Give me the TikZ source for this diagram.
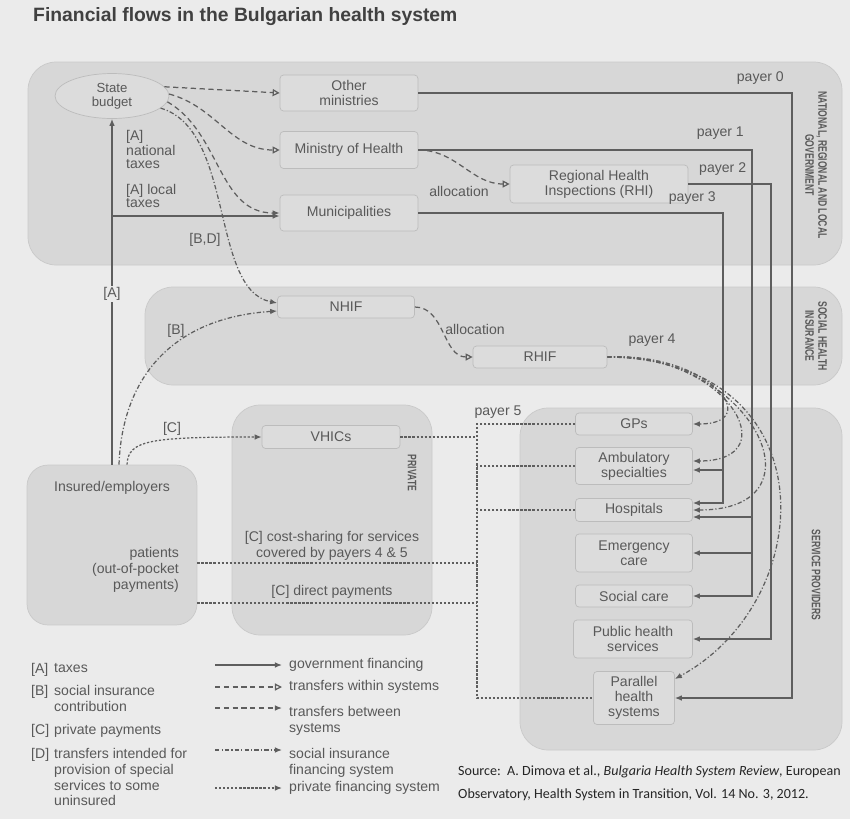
\documentclass[tikz,border=0pt]{standalone}
\usepackage{fontspec}
\setmainfont{Liberation Sans}
\newfontfamily\srcfont{Carlito}
\newfontfamily\condfont[FakeStretch=0.7]{Liberation Sans}
\usetikzlibrary{shapes.geometric, arrows.meta, positioning, calc}
\definecolor{pagebg}{HTML}{EBEBEB}
\definecolor{panelfill}{HTML}{D7D7D7}
\definecolor{panelline}{HTML}{C9C9C9}
\definecolor{boxfill}{HTML}{DCDCDC}
\definecolor{boxline}{HTML}{BCBCBC}
\definecolor{inkgray}{HTML}{595959}
\definecolor{linegray}{HTML}{5E5E5E}

\begin{document}
\begin{tikzpicture}[x=0.02cm, y=-0.02cm,
  panel/.style={draw=panelline, fill=panelfill, rounded corners=16pt},
  box/.style={rectangle, rounded corners=2pt, draw=boxline, fill=boxfill,
              font=\fontsize{8}{8.4}\selectfont, text=inkgray, align=center, inner sep=1pt},
  oval/.style={ellipse, draw=boxline, fill=boxfill, inner sep=0pt,
               font=\fontsize{7.5}{8}\selectfont, text=inkgray, align=center},
  lbl/.style={font=\fontsize{8}{9}\selectfont, text=inkgray, align=left},
  tight/.style={lbl, font=\fontsize{8}{7.4}\selectfont},
  side/.style={font=\condfont\bfseries\fontsize{7}{7.4}\selectfont, text=inkgray, rotate=-90, align=center},
  gov/.style={-{Latex[length=4pt,width=3.2pt]}, line width=0.7pt, draw=linegray},
  within/.style={-{Triangle[open,length=4pt,width=4pt]}, line width=0.7pt, draw=linegray, dash pattern=on 3pt off 2pt},
  between/.style={-{Latex[length=4pt,width=3.2pt]}, line width=0.7pt, draw=linegray, dash pattern=on 3pt off 2pt},
  sis/.style={-{Latex[length=4pt,width=3.2pt]}, line width=0.7pt, draw=linegray, dash pattern=on 2.5pt off 1.2pt on 0.7pt off 1.2pt},
  priv/.style={line width=0.7pt, draw=linegray, dash pattern=on 1.3pt off 1pt},
  privarr/.style={priv, -{Latex[length=4pt,width=3.2pt]}},
]
% page
\fill[pagebg] (0,0) rectangle (850,819);
\useasboundingbox (0,0) rectangle (850,819);
\node[anchor=west, font=\fontsize{11}{12}\selectfont\bfseries, text=black!75] (title) at (27,17)
  {Financial flows in the Bulgarian health system};

% sector panels
\draw[panel] (28,62) rectangle (842,265);
\draw[panel] (145,287) rectangle (842,385);
\draw[panel] (232,405) rectangle (432,635);
\draw[panel] (520,408) rectangle (842,750);
\node[panel, rounded corners=12pt, minimum width=3.4cm, minimum height=3.2cm] (ins) at (112,545) {};

\node[side] at (816,165) {NATIONAL, REGIONAL AND LOCAL\\GOVERNMENT};
\node[side] at (816,336) {SOCIAL HEALTH\\INSURANCE};
\node[side] at (412,473) {PRIVATE};
\node[side] at (816,575) {SERVICE PROVIDERS};

% funders
\node[oval, minimum width=2.28cm, minimum height=0.9cm] (budget) at (112,96) {State\\budget};
\node[box, minimum width=2.76cm, minimum height=0.72cm] (othmin) at (349,93) {Other\\ministries};
\node[box, minimum width=2.76cm, minimum height=0.74cm] (moh) at (349,150) {Ministry of Health};
\node[box, minimum width=2.76cm, minimum height=0.72cm] (muni) at (349,213) {Municipalities};
\node[box, minimum width=3.56cm, minimum height=0.76cm] (rhi) at (599,184) {Regional Health\\Inspections (RHI)};
\node[box, minimum width=2.74cm, minimum height=0.44cm] (nhif) at (346,307) {NHIF};
\node[box, minimum width=2.68cm, minimum height=0.44cm] (rhif) at (540,357) {RHIF};
\node[box, minimum width=2.76cm, minimum height=0.46cm] (vhic) at (331,437) {VHICs};

% providers
\node[box, minimum width=2.34cm, minimum height=0.44cm] (gps) at (634,424) {GPs};
\node[box, minimum width=2.34cm, minimum height=0.74cm] (amb) at (634,466) {Ambulatory\\specialties};
\node[box, minimum width=2.34cm, minimum height=0.46cm] (hosp) at (634,510) {Hospitals};
\node[box, minimum width=2.34cm, minimum height=0.76cm] (emer) at (634,553) {Emergency\\care};
\node[box, minimum width=2.34cm, minimum height=0.44cm] (soc) at (634,596) {Social care};
\node[box, minimum width=2.38cm, minimum height=0.76cm] (pub) at (633,639) {Public health\\services};
\node[box, minimum width=1.62cm, minimum height=1.06cm] (para) at (634,698) {Parallel\\health\\systems};

% insured / patients
\node[lbl] at (112,488) {Insured/employers};
\node[lbl, align=right, anchor=east] at (185,570) {patients\\(out-of-pocket\\payments)};
\node[lbl, align=center] at (332,546) {[C] cost-sharing for services\\covered by payers 4 \& 5};
\node[lbl] at (332,592) {[C] direct payments};

% taxes
\coordinate (taxjoin) at (112,216);
\draw[gov] (ins.north) -- (budget.south);
\draw[gov] (taxjoin) -- (taxjoin -| muni.west);
\node[lbl, fill=pagebg, inner sep=1pt] at (112,294) {[A]};
\node[tight, anchor=north west] at (120,124) {[A]\\national\\taxes};
\node[tight, anchor=north west] at (120,178) {[A] local\\taxes};

% transfers from the state budget
\draw[within] (budget.10) -- (othmin.west);
\draw[within] (budget.2) to[out=-15,in=180] (moh.west);
\draw[between] (budget.-6) to[out=-30,in=180] (muni.west);
\draw[sis] (budget.-14) .. controls (235,130) and (210,290) .. ($(nhif.west)+(0,-4)$);
\node[lbl] at (205,240) {[B,D]};

% contributions and private payments
\draw[sis] ($(ins.north)+(7,0)$) .. controls (122,380) and (170,318) .. ($(nhif.west)+(0,4)$);
\node[lbl] at (176,331) {[B]};
\draw[privarr] ($(ins.north)+(15,0)$) .. controls (128,440) and (150,437) .. (vhic.west);
\node[lbl] at (172,429) {[C]};

% allocations
\draw[within] (moh.east) to[out=0,in=180] (rhi.west);
\node[lbl] at (459,191) {allocation};
\draw[within] (nhif.east) to[out=0,in=180] (rhif.west);
\node[lbl] at (475,329) {allocation};

% payers 0-3
\coordinate (bus0) at (792,0);
\coordinate (bus1) at (752,0);
\coordinate (bus2) at (771,0);
\coordinate (bus3) at (723,0);
\draw[gov] (othmin.east) -| (bus0 |- para.east) -- (para.east);
\node[lbl, anchor=south east] at (790,91) {payer 0};
\draw[gov] (moh.east) -| (bus1 |- soc.east) -- (soc.east);
\draw[gov] ($(bus1 |- hosp.east)+(0,7)$) -- ($(hosp.east)+(0,7)$);
\draw[gov] (bus1 |- emer.east) -- (emer.east);
\node[lbl, anchor=south east] at (750,146) {payer 1};
\draw[gov] (rhi.east) -| (bus2 |- pub.east) -- (pub.east);
\node[lbl, anchor=south west] at (693,182) {payer 2};
\draw[gov] (muni.east) -| ($(bus3 |- hosp.east)+(0,-7)$) -- ($(hosp.east)+(0,-7)$);
\draw[gov] ($(bus3 |- amb.east)+(0,4)$) -- ($(amb.east)+(0,4)$);
\node[lbl, anchor=south east] at (722,211) {payer 3};

% payer 4
\draw[sis] (rhif.east) .. controls (710,352) and (765,424) .. (gps.east);
\draw[sis] (rhif.east) .. controls (725,352) and (790,461) .. ($(amb.east)+(0,-5)$);
\draw[sis] (rhif.east) .. controls (750,352) and (830,510) .. (hosp.east);
\draw[sis] (rhif.east) .. controls (830,360) and (820,600) .. (para.25);
\node[lbl] at (652,340) {payer 4};

% payer 5
\coordinate (bus5) at (477,0);
\coordinate (copay) at ($(ins.east)+(0,18)$);
\coordinate (direct) at ($(ins.east)+(0,58)$);
\draw[priv] (vhic.east) -- (bus5 |- vhic.east);
\draw[priv] (gps.west) -| (bus5 |- para.west) -- (para.west);
\draw[priv] (amb.west) -- (bus5 |- amb.west);
\draw[priv] (hosp.west) -- (bus5 |- hosp.west);
\draw[priv] (copay) -- (copay -| bus5);
\draw[priv] (direct) -- (direct -| bus5);
\node[lbl] at (498,412) {payer 5};

% legend
\node[lbl, anchor=north west] at (25,657) {[A]};
\node[lbl, anchor=north west] at (48,657) {taxes};
\node[lbl, anchor=north west] at (25,679) {[B]};
\node[lbl, anchor=north west] at (48,679) {social insurance\\contribution};
\node[lbl, anchor=north west] at (25,718) {[C]};
\node[lbl, anchor=north west] at (48,718) {private payments};
\node[lbl, anchor=north west] at (25,742) {[D]};
\node[lbl, anchor=north west] at (48,742) {transfers intended for\\provision of special\\services to some\\uninsured};
\draw[gov] (215,665) -- (282,665);
\node[lbl, anchor=west] at (283,665) {government financing};
\draw[within] (215,687) -- (282,687);
\node[lbl, anchor=west] at (283,687) {transfers within systems};
\draw[between] (215,708) -- (282,708);
\node[lbl, anchor=north west] at (283,700) {transfers between\\systems};
\draw[sis] (215,750) -- (282,750);
\node[lbl, anchor=north west] at (283,742) {social insurance\\financing system};
\draw[privarr] (215,788) -- (282,788);
\node[lbl, anchor=west] at (283,788) {private financing system};

% source
\node[anchor=north west, align=left, font=\srcfont\fontsize{8}{13}\selectfont, text=black!85] (src) at (452,760)
  {Source:\ \ A. Dimova et al., \textit{Bulgaria Health System Review}, European\\
   Observatory, Health System in Transition, Vol. 14 No. 3, 2012.};
\end{tikzpicture}
\end{document}
